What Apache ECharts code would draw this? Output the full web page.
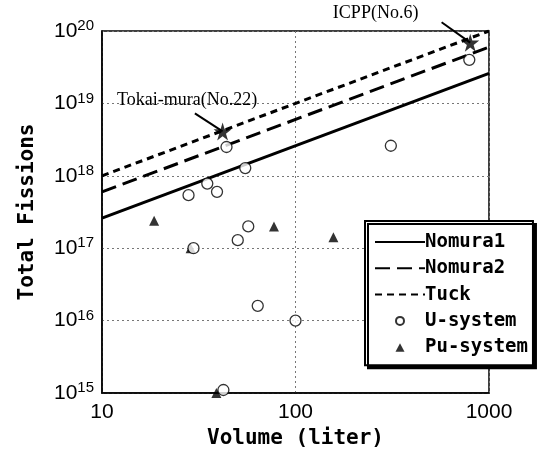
<!DOCTYPE html>
<html><head><meta charset="utf-8">
<script src="https://cdn.jsdelivr.net/npm/echarts@6/dist/echarts.min.js"></script>
<style>html,body{margin:0;padding:0;background:#fff}#c{width:540px;height:458px}</style>
</head><body><div id="c"></div>
<script>
// ---- data ----
const uVolume   = [44, 55, 35, 28, 39.3, 311, 791, 57, 50.3, 29.7, 63.8, 100, 42.4];
const uFissions = [2.5e18, 1.28e18, 7.8e17, 5.4e17, 6e17, 2.6e18, 4e19, 2e17, 1.29e17, 1e17, 1.6e16, 1e16, 1.1e15];
const puVolume   = [18.6, 77.4, 157, 28.7, 39];
const puFissions = [2.4e17, 2e17, 1.42e17, 1e17, 1e15];
const lineVolume = [10, 1000];
const nomura1 = [2.6e17, 2.6e19];
const nomura2 = [6e17, 6e19];
const tuck    = [1e18, 1e20];
const xTicks = [10, 100, 1000];
const yTicks = [1e15, 1e16, 1e17, 1e18, 1e19, 1e20];
// annotations
const annNames   = ['Tokai-mura(No.22)', 'ICPP(No.6)'];
const starVolume   = [42, 800];
const starFissions = [4.1e18, 6.9e19];
const textVolume   = [11.95, 156];
const textFissions = [1.12e19, 1.75e20];
const tailVolume   = [30.2, 569];
const tailFissions = [7.3e18, 1.32e20];

const zip = (a, b) => a.map((v, i) => [v, b[i]]);
const chart = echarts.init(document.getElementById('c'), null, {renderer: 'canvas'});
const mono = 'DejaVu Sans Mono';
const starPath = 'path://M50,0 L61,35 L98,35 L68,57 L79,91 L50,70 L21,91 L32,57 L2,35 L39,35 Z';
const hide = {color: 'rgba(0,0,0,0)', borderColor: 'rgba(0,0,0,0)', borderWidth: 0};
const circleIcon = 'path://M0,0 L0,0 M50,14 L50,14 M29,7 A4,4 0 1 1 21,7 A4,4 0 1 1 29,7 Z';
const triIcon = 'path://M0,0 L0,0 M50,14 L50,14 M20.5,11.5 L25,3 L29.5,11.5 Z';

chart.setOption({
  animation: false,
  backgroundColor: '#fff',
  grid: {left: 102, right: 51, top: 31, bottom: 65, show: true, borderColor: '#000', borderWidth: 1.5},
  xAxis: {
    type: 'log', logBase: 10, min: 10, max: 1000,
    name: 'Volume (liter)', nameLocation: 'middle', nameGap: 22,
    nameTextStyle: {fontFamily: mono, fontSize: 21, fontWeight: 'bold', color: '#000'},
    axisLine: {lineStyle: {color: '#000', width: 1.5}},
    axisTick: {show: false},
    axisLabel: {fontFamily: 'Liberation Sans', fontSize: 21, color: '#000', margin: 9,
      formatter: v => xTicks.includes(Math.round(v)) ? String(Math.round(v)) : ''},
    splitLine: {show: true, lineStyle: {color: '#777', type: [2, 3], width: 1}},
    minorTick: {show: false}
  },
  yAxis: {
    type: 'log', logBase: 10, min: 1e15, max: 1e20,
    name: 'Total Fissions', nameLocation: 'middle', nameGap: 64,
    nameTextStyle: {fontFamily: mono, fontSize: 21, fontWeight: 'bold', color: '#000'},
    axisLine: {lineStyle: {color: '#000', width: 1.5}},
    axisTick: {show: false},
    axisLabel: {margin: 8, color: '#000',
      formatter: v => '{b|10}{s|' + Math.round(Math.log10(v)) + '}',
      rich: {b: {fontFamily: 'Liberation Sans', fontSize: 21, color: '#000'},
             s: {fontFamily: 'Liberation Sans', fontSize: 15, color: '#000', padding: [0, 0, 10, 0]}}},
    splitLine: {show: true, lineStyle: {color: '#777', type: [2, 3], width: 1}}
  },
  legend: {
    orient: 'vertical', left: 365, top: 221,
    padding: [10, 5, 7, 9], itemGap: 4.3, itemWidth: 50, itemHeight: 14,
    backgroundColor: '#fff', borderColor: '#000', borderWidth: 2,
    shadowColor: '#000', shadowBlur: 0, shadowOffsetX: 3, shadowOffsetY: 3,
    lineStyle: {width: 2},
    textStyle: {fontFamily: mono, fontSize: 19, fontWeight: 'bold', color: '#000', lineHeight: 22, padding: [0, 0, 0, -5]},
    data: [
      {name: 'Nomura1', itemStyle: hide},
      {name: 'Nomura2', itemStyle: hide},
      {name: 'Tuck', itemStyle: hide},
      {name: 'U-system', icon: circleIcon},
      {name: 'Pu-system', icon: triIcon}
    ]
  },
  series: [
    {name: 'Nomura1', type: 'line', data: zip(lineVolume, nomura1), symbol: 'none',
     lineStyle: {color: '#000', width: 3, type: 'solid'}, itemStyle: {color: '#000'}},
    {name: 'Nomura2', type: 'line', data: zip(lineVolume, nomura2), symbol: 'none',
     lineStyle: {color: '#000', width: 3, type: [15, 7]}, itemStyle: {color: '#000'}},
    {name: 'Tuck', type: 'line', data: zip(lineVolume, tuck), symbol: 'none',
     lineStyle: {color: '#000', width: 3, type: [7, 5]}, itemStyle: {color: '#000'}},
    {name: 'Pu-system', type: 'scatter', data: zip(puVolume, puFissions), symbol: 'triangle', symbolSize: 10,
     itemStyle: {color: '#000'}, clip: false, z: 3},
    {name: 'U-system', type: 'scatter', data: zip(uVolume, uFissions), symbol: 'circle', symbolSize: 11,
     itemStyle: {color: '#fff', borderColor: '#000', borderWidth: 1.3}, clip: false, z: 4},
    {name: 'stars', type: 'scatter', data: zip(starVolume, starFissions), symbol: starPath, symbolSize: 18,
     itemStyle: {color: '#000'}, clip: false, z: 5, legendHoverLink: false}
  ]
});

// annotation texts and arrows placed via the axes
const g = [];
annNames.forEach((name, i) => {
  const t = chart.convertToPixel({gridIndex: 0}, [textVolume[i], textFissions[i]]);
  const a = chart.convertToPixel({gridIndex: 0}, [tailVolume[i], tailFissions[i]]);
  const h = chart.convertToPixel({gridIndex: 0}, [starVolume[i], starFissions[i]]);
  g.push({type: 'text', x: t[0], y: t[1], style: {text: name, font: '18px "Liberation Serif"', fill: '#000', verticalAlign: 'middle'}, z: 10});
  g.push({type: 'line', shape: {x1: a[0], y1: a[1], x2: h[0], y2: h[1]}, style: {stroke: '#000', lineWidth: 2}, z: 10});
});
chart.setOption({graphic: g});
</script></body></html>
